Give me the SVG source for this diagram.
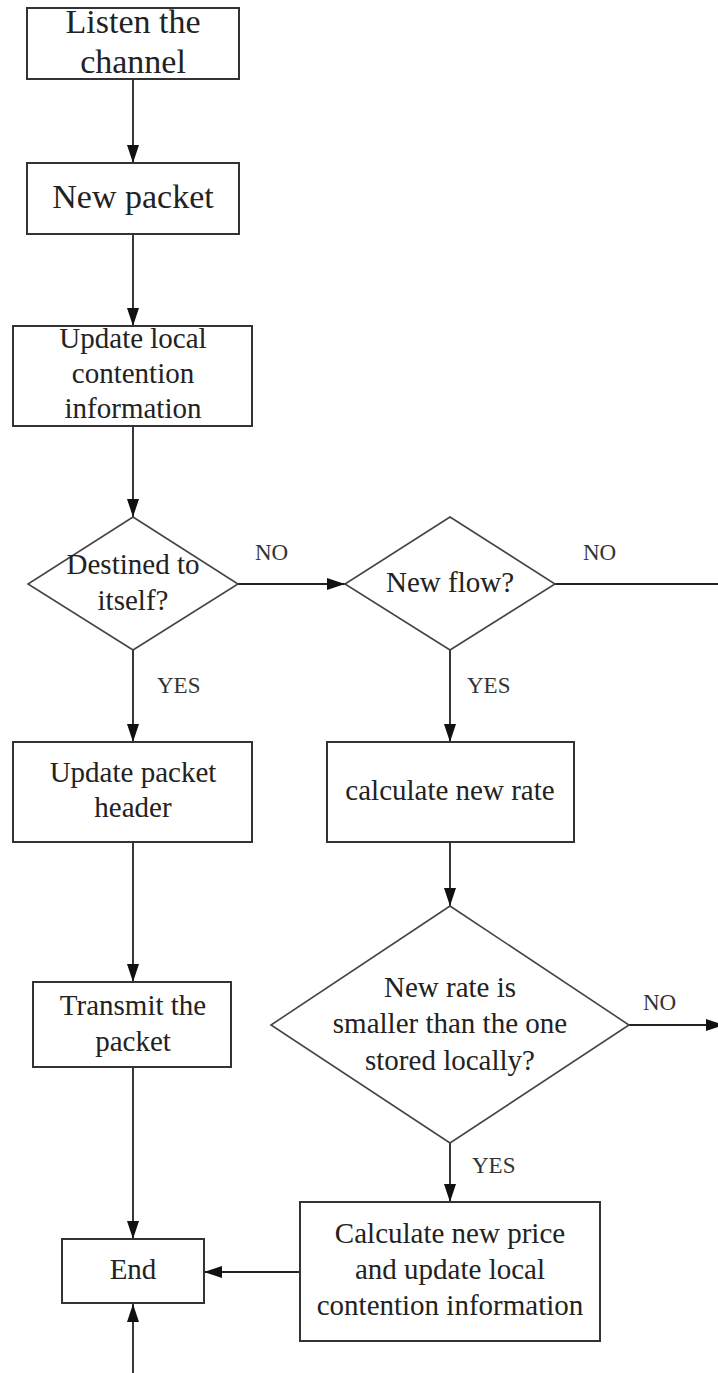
<svg xmlns="http://www.w3.org/2000/svg" width="718" height="1373" viewBox="0 0 718 1373">
<style>
.box{fill:#fff;stroke:#333;stroke-width:2}
.dia{fill:#fff;stroke:#444;stroke-width:1.6}
.t{font-family:"Liberation Serif","Times New Roman",serif;font-size:29px;fill:#222;text-anchor:middle}
.big{font-size:34px}
.lbl{font-family:"Liberation Serif","Times New Roman",serif;font-size:23px;fill:#333}
.c{fill:none;stroke:#222;stroke-width:1.8}
</style>
<defs>
<marker id="ah" markerUnits="userSpaceOnUse" markerWidth="20" markerHeight="14" refX="18" refY="6" orient="auto">
<path d="M0,0 L18,6 L0,12 z" fill="#111"/>
</marker>
</defs>
<rect width="718" height="1373" fill="#fff"/>
<g id="connectors">
<line class="c" x1="133" y1="79" x2="133" y2="163" marker-end="url(#ah)"/>
<line class="c" x1="133" y1="234" x2="133" y2="326" marker-end="url(#ah)"/>
<line class="c" x1="133" y1="426" x2="133" y2="517" marker-end="url(#ah)"/>
<line class="c" x1="238" y1="584" x2="345" y2="584" marker-end="url(#ah)"/>
<line class="c" x1="555" y1="584" x2="718" y2="584"/>
<line class="c" x1="133" y1="650" x2="133" y2="742" marker-end="url(#ah)"/>
<line class="c" x1="450" y1="650" x2="450" y2="742" marker-end="url(#ah)"/>
<line class="c" x1="133" y1="842" x2="133" y2="982" marker-end="url(#ah)"/>
<line class="c" x1="450" y1="842" x2="450" y2="906" marker-end="url(#ah)"/>
<line class="c" x1="629" y1="1025" x2="724" y2="1025" marker-end="url(#ah)"/>
<line class="c" x1="450" y1="1143" x2="450" y2="1202" marker-end="url(#ah)"/>
<line class="c" x1="133" y1="1067" x2="133" y2="1239" marker-end="url(#ah)"/>
<line class="c" x1="300" y1="1272" x2="204" y2="1272" marker-end="url(#ah)"/>
<line class="c" x1="133" y1="1373" x2="133" y2="1304" marker-end="url(#ah)"/>
<text class="lbl" x="255" y="560">NO</text>
<text class="lbl" x="583" y="560">NO</text>
<text class="lbl" x="157" y="693">YES</text>
<text class="lbl" x="467" y="693">YES</text>
<text class="lbl" x="643" y="1010">NO</text>
<text class="lbl" x="472" y="1173">YES</text>
</g>
<g id="listen">
<rect class="box" x="27" y="8" width="212" height="71"/>
<text class="t big" x="133" y="33">Listen the</text>
<text class="t big" x="133" y="73">channel</text>
</g>
<g id="newpacket">
<rect class="box" x="27" y="163" width="212" height="71"/>
<text class="t big" x="133" y="208">New packet</text>
</g>
<g id="updatelocal">
<rect class="box" x="13" y="326" width="239" height="100"/>
<text class="t" x="133" y="348">Update local</text>
<text class="t" x="133" y="383">contention</text>
<text class="t" x="133" y="418">information</text>
</g>
<g id="destined">
<polygon class="dia" points="133,517 238,584 133,650 28,584"/>
<text class="t" x="133" y="574">Destined to</text>
<text class="t" x="133" y="610">itself?</text>
</g>
<g id="newflow">
<polygon class="dia" points="450,517 555,584 450,650 345,584"/>
<text class="t" x="450" y="592">New flow?</text>
</g>
<g id="updateheader">
<rect class="box" x="13" y="742" width="239" height="100"/>
<text class="t" x="133" y="782">Update packet</text>
<text class="t" x="133" y="817">header</text>
</g>
<g id="calcrate">
<rect class="box" x="327" y="742" width="247" height="100"/>
<text class="t" x="450" y="800">calculate new rate</text>
</g>
<g id="transmit">
<rect class="box" x="33" y="982" width="198" height="85"/>
<text class="t" x="133" y="1015">Transmit the</text>
<text class="t" x="133" y="1051">packet</text>
</g>
<g id="smaller">
<polygon class="dia" points="450,906 629,1025 450,1143 271,1025"/>
<text class="t" x="450" y="997">New rate is</text>
<text class="t" x="450" y="1033">smaller than the one</text>
<text class="t" x="450" y="1070">stored locally?</text>
</g>
<g id="calcprice">
<rect class="box" x="300" y="1202" width="300" height="139"/>
<text class="t" x="450" y="1243">Calculate new price</text>
<text class="t" x="450" y="1279">and update local</text>
<text class="t" x="450" y="1315">contention information</text>
</g>
<g id="end">
<rect class="box" x="62" y="1239" width="142" height="64"/>
<text class="t" x="133" y="1279">End</text>
</g>
</svg>
